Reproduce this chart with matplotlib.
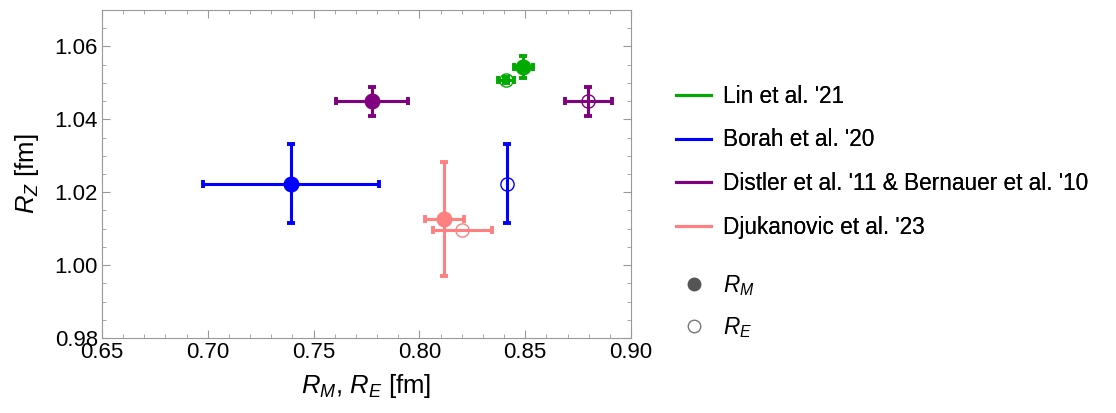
import matplotlib.pyplot as plt
from matplotlib.lines import Line2D
from matplotlib.ticker import MultipleLocator

plt.rcParams['font.family'] = ['Liberation Sans', 'DejaVu Sans']
plt.rcParams['mathtext.fontset'] = 'custom'
plt.rcParams['mathtext.it'] = 'Liberation Sans:italic'
plt.rcParams['mathtext.rm'] = 'Liberation Sans'

# data: (R_M, R_Z, xerr, yerr) filled, (R_E, R_Z, xerr, yerr) open
labels = ["Lin et al. '21", "Borah et al. '20",
          "Distler et al. '11 & Bernauer et al. '10", "Djukanovic et al. '23"]
colors = ["#00aa00", "#0000ff", "#800080", "#ff8080"]

rm = [0.849, 0.7393, 0.7775, 0.8118]
rm_z = [1.0543, 1.0223, 1.0450, 1.0126]
rm_xerr = [0.0045, 0.0414, 0.017, 0.0091]
rm_yerr = [0.0030, 0.0108, 0.0040, 0.0157]

re = [0.8409, 0.8415, 0.8798, 0.8203]
re_z = [1.0509, 1.0223, 1.0450, 1.0096]
re_xerr = [0.0038, 0.0, 0.011, 0.014]
re_yerr = [0.0008, 0.0108, 0.0040, 0.0]

fig = plt.figure(figsize=(11.16, 4.13), dpi=100)
ax = fig.add_axes([102 / 1116, 1 - 338 / 413, 529 / 1116, 328 / 413])

for i in range(4):
    c = colors[i]
    ax.errorbar(rm[i], rm_z[i], xerr=rm_xerr[i], yerr=rm_yerr[i], fmt='o', color=c,
                ms=10.5, elinewidth=2.2, capsize=3.2, capthick=2.8, zorder=3)
    ax.errorbar(re[i], re_z[i], xerr=re_xerr[i] or None, yerr=re_yerr[i] or None,
                fmt='none', ecolor=c, elinewidth=2.2, capsize=3.2, capthick=2.8, zorder=3)
    ax.plot(re[i], re_z[i], 'o', ms=9.5, mfc='none', mec=c, mew=1.0, zorder=4)

ax.set_xlim(0.65, 0.90)
ax.set_ylim(0.98, 1.07)
ax.xaxis.set_major_locator(MultipleLocator(0.05))
ax.xaxis.set_minor_locator(MultipleLocator(0.01))
ax.yaxis.set_major_locator(MultipleLocator(0.02))
ax.yaxis.set_minor_locator(MultipleLocator(0.005))
ax.xaxis.set_major_formatter(plt.FormatStrFormatter('%.2f'))
ax.yaxis.set_major_formatter(plt.FormatStrFormatter('%.2f'))
ax.tick_params(which='both', direction='in', top=True, right=True, color='#999999',
               labelsize=16, labelcolor='black', pad=3)
ax.tick_params(which='major', length=6)
ax.tick_params(which='minor', length=3)
for s in ax.spines.values():
    s.set_color('#999999')

ax.set_xlabel(r'$R_M$, $R_E$ [fm]', fontsize=18.5, labelpad=6)
ax.set_ylabel(r'$R_Z$ [fm]', fontsize=18.5, labelpad=10)

line_handles = [Line2D([], [], color=c, lw=2.2) for c in colors]
leg1 = fig.legend(line_handles, labels, loc='upper left',
                  bbox_to_anchor=(656 / 1116, 1 - 64.5 / 413), frameon=False,
                  fontsize=16.3, handlelength=1.55, handletextpad=0.53, labelspacing=0.91)
mark_handles = [Line2D([], [], ls='none', marker='o', ms=9, color='#555555'),
                Line2D([], [], ls='none', marker='o', ms=9, mfc='white', mec='#777777', mew=1)]
fig.legend(mark_handles, [r'$R_M$', r'$R_E$'], loc='upper left',
           bbox_to_anchor=(656 / 1116, 1 - 252.5 / 413), frameon=False,
           fontsize=16.3, handlelength=1.55, handletextpad=0.53, labelspacing=0.75)
fig.add_artist(leg1)

fig.savefig('out.png', dpi=100)
